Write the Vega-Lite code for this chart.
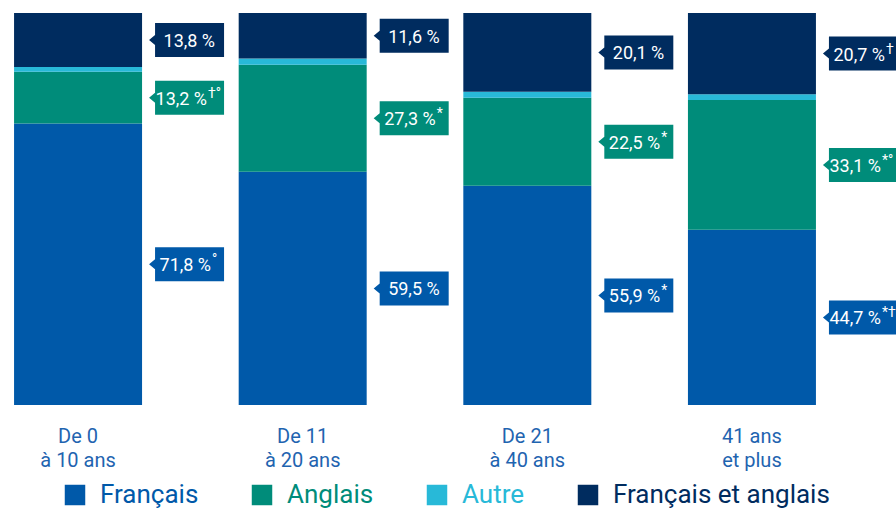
{
  "$schema": "https://vega.github.io/schema/vega-lite/v6.json",
  "width": 830,
  "height": 392,
  "autosize": {"type": "none"},
  "padding": {"left": 0, "top": 13, "right": 66, "bottom": 103},
  "background": "white",
  "config": {"view": {"stroke": null}},
  "data": {
    "values": [
      {"age": "De 0\nà 10 ans", "cat": "Français", "value": 71.8, "sup": "°", "ord": 1},
      {"age": "De 0\nà 10 ans", "cat": "Anglais", "value": 13.2, "sup": "†°", "ord": 2},
      {"age": "De 0\nà 10 ans", "cat": "Autre", "value": 1.2, "sup": "", "ord": 3},
      {"age": "De 0\nà 10 ans", "cat": "Français et anglais", "value": 13.8, "sup": "", "ord": 4},
      {"age": "De 11\nà 20 ans", "cat": "Français", "value": 59.5, "sup": "", "ord": 1},
      {"age": "De 11\nà 20 ans", "cat": "Anglais", "value": 27.3, "sup": "*", "ord": 2},
      {"age": "De 11\nà 20 ans", "cat": "Autre", "value": 1.6, "sup": "", "ord": 3},
      {"age": "De 11\nà 20 ans", "cat": "Français et anglais", "value": 11.6, "sup": "", "ord": 4},
      {"age": "De 21\nà 40 ans", "cat": "Français", "value": 55.9, "sup": "*", "ord": 1},
      {"age": "De 21\nà 40 ans", "cat": "Anglais", "value": 22.5, "sup": "*", "ord": 2},
      {"age": "De 21\nà 40 ans", "cat": "Autre", "value": 1.5, "sup": "", "ord": 3},
      {"age": "De 21\nà 40 ans", "cat": "Français et anglais", "value": 20.1, "sup": "", "ord": 4},
      {"age": "41 ans\net plus", "cat": "Français", "value": 44.7, "sup": "*†", "ord": 1},
      {"age": "41 ans\net plus", "cat": "Anglais", "value": 33.1, "sup": "*°", "ord": 2},
      {"age": "41 ans\net plus", "cat": "Autre", "value": 1.5, "sup": "", "ord": 3},
      {"age": "41 ans\net plus", "cat": "Français et anglais", "value": 20.7, "sup": "†", "ord": 4}
    ]
  },
  "transform": [
    {"stack": "value", "groupby": ["age"], "sort": [{"field": "ord", "order": "ascending"}], "as": ["v0", "v1"]},
    {"calculate": "(datum.v0 + datum.v1) / 2", "as": "mid"},
    {"calculate": "replace(format(datum.value, '.1f'), '.', ',') + ' %'", "as": "label"}
  ],
  "encoding": {
    "x": {
      "field": "age",
      "type": "nominal",
      "sort": null,
      "scale": {"paddingInner": 0.5, "paddingOuter": 0.0975},
      "axis": {
        "title": null,
        "domain": false,
        "ticks": false,
        "labelAngle": 0,
        "labelFont": "Roboto",
        "labelFontSize": 20,
        "labelColor": "#1F64B0",
        "labelPadding": 21,
        "labelLineHeight": 24,
        "labelOverlap": false,
        "labelBound": false,
        "labelExpr": "split(datum.label, '\\n')"
      }
    }
  },
  "layer": [
    {
      "mark": {"type": "bar", "width": 128},
      "encoding": {
        "y": {"field": "v0", "type": "quantitative", "scale": {"domain": [0, 100], "nice": false}, "axis": null},
        "y2": {"field": "v1"},
        "color": {
          "field": "cat",
          "type": "nominal",
          "scale": {
            "domain": ["Français", "Anglais", "Autre", "Français et anglais"],
            "range": ["#0059A9", "#008C7A", "#28B9D8", "#002C5F"]
          },
          "legend": {
            "title": null,
            "orient": "none",
            "direction": "horizontal",
            "legendX": 62,
            "legendY": 469,
            "symbolType": "square",
            "symbolSize": 420,
            "symbolStrokeWidth": 0,
            "symbolOpacity": 1,
            "labelFont": "Roboto",
            "labelFontSize": 26,
            "labelOffset": 12,
            "labelLimit": 400,
            "columnPadding": 50,
            "encode": {"labels": {"update": {"fill": {"scale": "color", "field": "value"}}}}
          }
        }
      }
    },
    {
      "transform": [{"filter": "datum.cat !== 'Autre'"}],
      "mark": {
        "type": "point",
        "shape": "M71,0L77,-5L77,-17L146,-17L146,17L77,17L77,5Z",
        "size": 4,
        "filled": true,
        "opacity": 1,
        "strokeWidth": 0
      },
      "encoding": {
        "y": {"field": "mid", "type": "quantitative", "stack": null},
        "fill": {
          "field": "cat",
          "type": "nominal",
          "scale": {
            "domain": ["Français", "Anglais", "Autre", "Français et anglais"],
            "range": ["#0059A9", "#008C7A", "#28B9D8", "#002C5F"]
          },
          "legend": null
        }
      }
    },
    {
      "transform": [{"filter": "datum.cat !== 'Autre'"}],
      "mark": {
        "type": "text",
        "align": "right",
        "baseline": "alphabetic",
        "dx": {"expr": "137 - 4 * length(datum.sup)"},
        "dy": 7,
        "font": "Roboto",
        "fontSize": 18,
        "color": "white"
      },
      "encoding": {
        "y": {"field": "mid", "type": "quantitative", "stack": null},
        "text": {"field": "label"}
      }
    },
    {
      "transform": [{"filter": "datum.cat !== 'Autre' && datum.sup !== ''"}],
      "mark": {
        "type": "text",
        "align": "left",
        "baseline": "alphabetic",
        "dx": {"expr": "138 - 4 * length(datum.sup)"},
        "dy": 0,
        "font": "Roboto",
        "fontSize": 14,
        "color": "white"
      },
      "encoding": {
        "y": {"field": "mid", "type": "quantitative", "stack": null},
        "text": {"field": "sup"}
      }
    }
  ]
}
